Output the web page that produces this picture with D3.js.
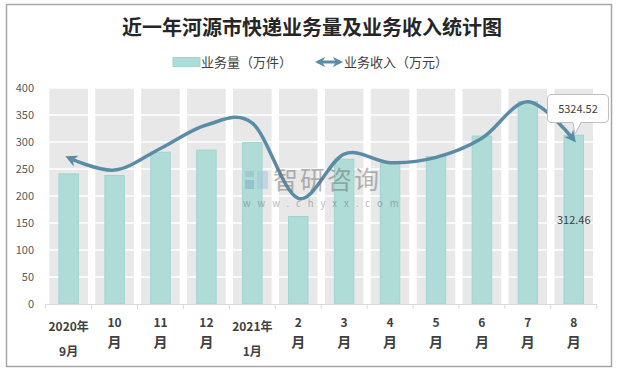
<!DOCTYPE html>
<html><head><meta charset="utf-8">
<script src="https://cdn.jsdelivr.net/npm/d3@7"></script>
<style>html,body{margin:0;padding:0;background:#fff}svg{display:block}</style>
</head><body>
<svg id="c" width="626" height="371"></svg>
<script>
const categories = ["2020年9月","10月","11月","12月","2021年1月","2月","3月","4月","5月","6月","7月","8月"];
const labelLines = [["2020年","9月"],["10","月"],["11","月"],["12","月"],["2021年","1月"],["2","月"],["3","月"],["4","月"],["5","月"],["6","月"],["7","月"],["8","月"]];
const volume = [241, 238, 281, 285, 299, 162, 268, 261, 273, 311, 375, 312.46];
const revenue = [4740, 4340, 5040, 5800, 5860, 3425, 4860, 4580, 4750, 5370, 6555, 5324.52];
const yTicks = [0, 50, 100, 150, 200, 250, 300, 350, 400];
const title = "近一年河源市快递业务量及业务收入统计图";
const legendNames = ["业务量（万件）", "业务收入（万元）"];

const svg = d3.select("#c");
const font = "'Noto Sans CJK SC', 'Noto Sans', sans-serif";
const L = 45.7, R = 596.7, T = 88, B = 304;

svg.append("rect").attr("x",6.5).attr("y",4.5).attr("width",605).attr("height",362)
  .attr("fill","#fff").attr("stroke","#a6a6a6").attr("stroke-width",1.5);

svg.append("text").attr("x",312).attr("y",35).attr("text-anchor","middle")
  .attr("font-family",font).attr("font-weight","bold").attr("font-size",20)
  .attr("fill","#262626").text(title);

const x = d3.scaleBand().domain(categories).range([L, R]);
const y = d3.scaleLinear().domain([0, 400]).range([B, T]);
const y2 = d3.scaleLinear().domain([0, 7000]).range([B, T]);
const bw = x.bandwidth();
const cx = d => x(d) + bw / 2;

// gray background columns
svg.append("g").selectAll("rect").data(categories).join("rect")
  .attr("x", d => cx(d) - bw*0.42).attr("width", bw*0.84)
  .attr("y", y(400)).attr("height", y(0) - y(400)).attr("fill", "#e8e8e8");

// gridlines
svg.append("g").selectAll("line").data(yTicks.slice(1)).join("line")
  .attr("x1", L).attr("x2", R).attr("y1", d => y(d)).attr("y2", d => y(d))
  .attr("stroke", "#fff").attr("stroke-width", 1.3);

// y tick labels
svg.append("g").selectAll("text").data(yTicks).join("text")
  .attr("x", 34).attr("y", d => y(d) + 4).attr("text-anchor", "end")
  .attr("font-family", font).attr("font-size", 11).attr("fill", "#595959").text(d => d);

// bars
svg.append("g").selectAll("rect").data(categories).join("rect")
  .attr("x", d => cx(d) - 9.7).attr("width", 19.4)
  .attr("y", (d, i) => y(volume[i])).attr("height", (d, i) => y(0) - y(volume[i]))
  .attr("fill", "#b0dcd8").attr("stroke", "#9fd4cf").attr("stroke-width", 1);

// x axis
svg.append("line").attr("x1", L).attr("x2", R).attr("y1", B + 0.5).attr("y2", B + 0.5)
  .attr("stroke", "#d9d9d9").attr("stroke-width", 1);
svg.append("g").selectAll("line").data(d3.range(categories.length + 1)).join("line")
  .attr("x1", i => L + i * bw).attr("x2", i => L + i * bw).attr("y1", B).attr("y2", B + 5)
  .attr("stroke", "#d9d9d9");
const xl = svg.append("g").selectAll("text").data(labelLines).join("text")
  .attr("font-family", font).attr("font-weight", "bold").attr("font-size", 12)
  .attr("fill", "#404040").attr("text-anchor", "middle");
xl.each(function(d, i) {
  const t = d3.select(this);
  const long = d[0].length > 3;
  t.append("tspan").attr("x", cx(categories[i])).attr("y", long ? 331 : 327).text(d[0]);
  t.append("tspan").attr("x", cx(categories[i])).attr("y", long ? 356 : 347)
    .attr("font-size", long ? 12 : 14).text(d[1]);
});

// line with arrows
const defs = svg.append("defs");
defs.append("marker").attr("id", "arr").attr("viewBox", "0 0 10 10").attr("refX", 7).attr("refY", 5)
  .attr("markerWidth", 3.4).attr("markerHeight", 3.4).attr("orient", "auto-start-reverse")
  .append("path").attr("d", "M0,0 L10,5 L0,10 L3,5 Z").attr("fill", "#5a8da5");
const line = d3.line().x((d, i) => cx(categories[i])).y(d => y2(d)).curve(d3.curveCatmullRom.alpha(0));
svg.append("path").datum(revenue).attr("d", line).attr("fill", "none")
  .attr("stroke", "#5a8da5").attr("stroke-width", 3.5)
  .attr("marker-start", "url(#arr)").attr("marker-end", "url(#arr)");

// watermark (on top)
const wm = svg.append("g").attr("opacity", 0.5);
wm.append("rect").attr("x",245).attr("y",171).attr("width",9).attr("height",6).attr("fill","#8fb5cc");
wm.append("rect").attr("x",245).attr("y",180).attr("width",9).attr("height",9).attr("fill","#7aa9c6");
wm.append("rect").attr("x",257).attr("y",171).attr("width",11).attr("height",18).attr("fill","#9ec3d9");
wm.append("text").attr("x",273).attr("y",189).attr("font-family",font).attr("font-size",25)
  .attr("fill","#6f6f6f").attr("letter-spacing",2).text("智研咨询");
wm.append("text").attr("x",243).attr("y",207).attr("font-family",font).attr("font-size",9.5)
  .attr("fill","#6f6f6f").attr("letter-spacing",7).text("www.chyxx.com");

// labels
const lx = cx(categories[11]);
svg.append("path")
  .attr("d", `M552,94.5 H604 Q608.5,94.5 608.5,99 V118 Q608.5,122.5 604,122.5 H581 L575,134 L573,122.5 H552 Q547.5,122.5 547.5,118 V99 Q547.5,94.5 552,94.5 Z`)
  .attr("fill", "#fff").attr("stroke", "#bfbfbf").attr("stroke-width", 1);
svg.append("text").attr("x", 578).attr("y", 113).attr("text-anchor", "middle")
  .attr("font-family", font).attr("font-size", 11).attr("fill", "#404040").text(revenue[11]);
svg.append("text").attr("x", lx).attr("y", 224).attr("text-anchor", "middle")
  .attr("font-family", font).attr("font-size", 11).attr("fill", "#404040").text(volume[11]);

// legend
svg.append("rect").attr("x", 173).attr("y", 57.5).attr("width", 27).attr("height", 9)
  .attr("fill", "#b0dcd8").attr("stroke", "#9fd4cf");
svg.append("text").attr("x", 201).attr("y", 67).attr("font-family", font).attr("font-size", 13)
  .attr("fill", "#404040").text(legendNames[0]);
svg.append("line").attr("x1", 318).attr("x2", 340).attr("y1", 62).attr("y2", 62)
  .attr("stroke", "#5a8da5").attr("stroke-width", 3)
  .attr("marker-start", "url(#arr)").attr("marker-end", "url(#arr)");
svg.append("text").attr("x", 344).attr("y", 67).attr("font-family", font).attr("font-size", 13)
  .attr("fill", "#404040").text(legendNames[1]);
</script>
</body></html>
